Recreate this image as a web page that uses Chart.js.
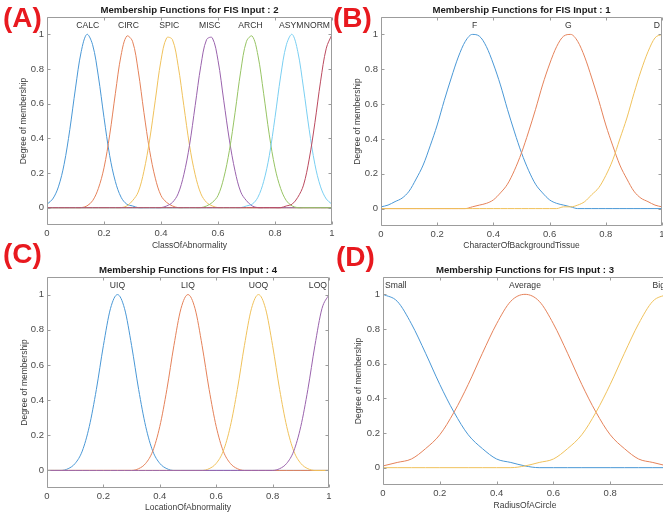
<!DOCTYPE html>
<html><head><meta charset="utf-8">
<script src="https://cdn.jsdelivr.net/npm/chart.js@4.4.1/dist/chart.umd.min.js"></script>
<style>
html,body{margin:0;padding:0;background:#fff;width:663px;height:516px;overflow:hidden;position:relative;}
canvas{position:absolute;}
.tag{position:absolute;font:bold 28px "Liberation Sans",Arial,sans-serif;color:#e8191f;line-height:normal;white-space:nowrap;}
</style></head><body>
<canvas id="cA" width="335" height="256" style="left:0;top:0"></canvas>
<canvas id="cB" width="328" height="256" style="left:335px;top:0"></canvas>
<canvas id="cC" width="335" height="258" style="left:0;top:258px"></canvas>
<canvas id="cD" width="340" height="258" style="left:335px;top:258px"></canvas>
<div class="tag" style="left:3px;top:2px">(A)</div>
<div class="tag" style="left:333px;top:2px">(B)</div>
<div class="tag" style="left:3px;top:238px">(C)</div>
<div class="tag" style="left:336px;top:241px">(D)</div>
<script>
// ---------- DATA ----------
const xTickVals = [0, 0.2, 0.4, 0.6, 0.8, 1];
const yTickVals = [0, 0.2, 0.4, 0.6, 0.8, 1];

// Panel A : FIS Input 2 (ClassOfAbnormality)
const titleA = 'Membership Functions for FIS Input : 2';
const xTitleA = 'ClassOfAbnormality';
const labelsA = ['CALC', 'CIRC', 'SPIC', 'MISC', 'ARCH', 'ASYM', 'NORM'];
const centersA = [0.143, 0.286, 0.429, 0.571, 0.714, 0.857, 1];
const xA = [0,0.02,0.04,0.06,0.08,0.1,0.12,0.14,0.16,0.18,0.2,0.22,0.24,0.26,0.28,0.3,0.32,0.34,0.36,0.38,0.4,0.42,0.44,0.46,0.48,0.5,0.52,0.54,0.56,0.58,0.6,0.62,0.64,0.66,0.68,0.7,0.72,0.74,0.76,0.78,0.8,0.82,0.84,0.86,0.88,0.9,0.92,0.94,0.96,0.98,1];
const calcA = [0.02,0.05,0.12,0.25,0.45,0.69,0.90,1,0.94,0.76,0.52,0.30,0.15,0.06,0.02,0.01,0,0,0,0,0,0,0,0,0,0,0,0,0,0,0,0,0,0,0,0,0,0,0,0,0,0,0,0,0,0,0,0,0,0,0];
const circA = [0,0,0,0,0,0,0,0.01,0.04,0.11,0.23,0.42,0.66,0.88,0.99,0.96,0.79,0.55,0.33,0.17,0.07,0.03,0.01,0,0,0,0,0,0,0,0,0,0,0,0,0,0,0,0,0,0,0,0,0,0,0,0,0,0,0,0];
const spicA = [0,0,0,0,0,0,0,0,0,0,0,0,0,0,0.01,0.04,0.09,0.21,0.39,0.62,0.85,0.98,0.97,0.82,0.59,0.36,0.19,0.08,0.03,0.01,0,0,0,0,0,0,0,0,0,0,0,0,0,0,0,0,0,0,0,0,0];
const miscA = [0,0,0,0,0,0,0,0,0,0,0,0,0,0,0,0,0,0,0,0,0,0.01,0.03,0.08,0.19,0.36,0.59,0.82,0.97,0.98,0.85,0.62,0.39,0.21,0.09,0.04,0.01,0,0,0,0,0,0,0,0,0,0,0,0,0,0];
const archA = [0,0,0,0,0,0,0,0,0,0,0,0,0,0,0,0,0,0,0,0,0,0,0,0,0,0,0,0,0.01,0.03,0.07,0.17,0.33,0.55,0.79,0.96,0.99,0.88,0.66,0.42,0.23,0.11,0.04,0.01,0,0,0,0,0,0,0];
const asymA = [0,0,0,0,0,0,0,0,0,0,0,0,0,0,0,0,0,0,0,0,0,0,0,0,0,0,0,0,0,0,0,0,0,0,0,0.01,0.02,0.06,0.15,0.30,0.52,0.76,0.94,1,0.90,0.69,0.45,0.25,0.12,0.05,0.02];
const normA = [0,0,0,0,0,0,0,0,0,0,0,0,0,0,0,0,0,0,0,0,0,0,0,0,0,0,0,0,0,0,0,0,0,0,0,0,0,0,0,0,0,0,0.01,0.02,0.06,0.13,0.28,0.49,0.73,0.92,1];

// Panel B : FIS Input 1 (CharacterOfBackgroundTissue)
const titleB = 'Membership Functions for FIS Input : 1';
const xTitleB = 'CharacterOfBackgroundTissue';
const labelsB = ['F', 'G', 'D'];
const centersB = [0.333, 0.667, 1];
const xB = [0,0.025,0.05,0.075,0.1,0.125,0.15,0.175,0.2,0.225,0.25,0.275,0.3,0.325,0.35,0.375,0.4,0.425,0.45,0.475,0.5,0.525,0.55,0.575,0.6,0.625,0.65,0.675,0.7,0.725,0.75,0.775,0.8,0.825,0.85,0.875,0.9,0.925,0.95,0.975,1];
const fB = [0.01,0.02,0.04,0.06,0.10,0.17,0.25,0.36,0.48,0.62,0.75,0.87,0.96,1.00,0.99,0.93,0.83,0.71,0.57,0.44,0.32,0.22,0.14,0.09,0.05,0.03,0.02,0.01,0,0,0,0,0,0,0,0,0,0,0,0,0];
const gB = [0,0,0,0,0,0,0,0,0,0,0,0,0,0.01,0.02,0.03,0.05,0.09,0.14,0.22,0.32,0.44,0.57,0.71,0.83,0.93,0.99,1.00,0.96,0.87,0.75,0.62,0.48,0.36,0.25,0.17,0.10,0.06,0.04,0.02,0.01];
const dB = [0,0,0,0,0,0,0,0,0,0,0,0,0,0,0,0,0,0,0,0,0,0,0,0,0,0,0.01,0.01,0.02,0.04,0.08,0.12,0.19,0.28,0.40,0.52,0.66,0.79,0.90,0.98,1];

// Panel C : FIS Input 4 (LocationOfAbnormality)
const titleC = 'Membership Functions for FIS Input : 4';
const xTitleC = 'LocationOfAbnormality';
const labelsC = ['UIQ', 'LIQ', 'UOQ', 'LOQ'];
const centersC = [0.25, 0.5, 0.75, 1];
const xC = [0,0.025,0.05,0.075,0.1,0.125,0.15,0.175,0.2,0.225,0.25,0.275,0.3,0.325,0.35,0.375,0.4,0.425,0.45,0.475,0.5,0.525,0.55,0.575,0.6,0.625,0.65,0.675,0.7,0.725,0.75,0.775,0.8,0.825,0.85,0.875,0.9,0.925,0.95,0.975,1];
const uiqC = [0,0,0,0.01,0.04,0.11,0.25,0.46,0.71,0.92,1,0.92,0.71,0.46,0.25,0.11,0.04,0.01,0,0,0,0,0,0,0,0,0,0,0,0,0,0,0,0,0,0,0,0,0,0,0];
const liqC = [0,0,0,0,0,0,0,0,0,0,0,0,0,0.01,0.04,0.11,0.25,0.46,0.71,0.92,1,0.92,0.71,0.46,0.25,0.11,0.04,0.01,0,0,0,0,0,0,0,0,0,0,0,0,0];
const uoqC = [0,0,0,0,0,0,0,0,0,0,0,0,0,0,0,0,0,0,0,0,0,0,0,0.01,0.04,0.11,0.25,0.46,0.71,0.92,1,0.92,0.71,0.46,0.25,0.11,0.04,0.01,0,0,0];
const loqC = [0,0,0,0,0,0,0,0,0,0,0,0,0,0,0,0,0,0,0,0,0,0,0,0,0,0,0,0,0,0,0,0,0,0.01,0.04,0.11,0.25,0.46,0.71,0.92,1];

// Panel D : FIS Input 3 (RadiusOfACircle)
const titleD = 'Membership Functions for FIS Input : 3';
const xTitleD = 'RadiusOfACircle';
const labelsD = ['Small', 'Average', 'Big'];
const centersD = [0, 0.5, 1];
const xD = [0,0.05,0.1,0.15,0.2,0.25,0.3,0.35,0.4,0.45,0.5,0.55,0.6,0.65,0.7,0.75,0.8,0.85,0.9,0.95,1];
const smallD = [1,0.96,0.83,0.66,0.48,0.32,0.19,0.11,0.05,0.03,0.01,0,0,0,0,0,0,0,0,0,0];
const averageD = [0.01,0.03,0.05,0.11,0.19,0.32,0.48,0.66,0.83,0.96,1,0.96,0.83,0.66,0.48,0.32,0.19,0.11,0.05,0.03,0.01];
const bigD = [0,0,0,0,0,0,0,0,0,0,0.01,0.03,0.05,0.11,0.19,0.32,0.48,0.66,0.83,0.96,1];

// ---------- STYLE ----------
const COLORS = ['#4a98d6', '#e5825a', '#f0c25c', '#9a63ad', '#97c464', '#7acff2', '#bb4a5f'];
const FONT = '"Liberation Sans", Arial, sans-serif';
const AXIS_COLOR = '#9c9c9c';

const matlabAxes = {
  id: 'matlabAxes',
  afterDraw(chart, args, o) {
    const {ctx, chartArea: ca, scales: {x, y}} = chart;
    const L = Math.round(ca.left) + 0.5, R = Math.round(ca.right) - 0.5;
    const T = Math.round(ca.top) + 0.5, B = Math.round(ca.bottom) - 0.5;
    ctx.save();
    ctx.strokeStyle = AXIS_COLOR; ctx.lineWidth = 1;
    ctx.beginPath();
    ctx.rect(L, T, R - L, B - T);
    x.ticks.forEach(t => {
      const px = Math.round(x.getPixelForValue(t.value)) + 0.5;
      ctx.moveTo(px, B); ctx.lineTo(px, B - 3);
      ctx.moveTo(px, T); ctx.lineTo(px, T + 3);
    });
    y.ticks.forEach(t => {
      const py = Math.round(y.getPixelForValue(t.value)) + 0.5;
      ctx.moveTo(L, py); ctx.lineTo(L + 3, py);
      ctx.moveTo(R, py); ctx.lineTo(R - 3, py);
    });
    ctx.stroke();
    // title
    ctx.fillStyle = '#1a1a1a';
    ctx.font = 'bold 9.6px ' + FONT;
    ctx.textAlign = 'center'; ctx.textBaseline = 'middle';
    ctx.fillText(o.title, (ca.left + ca.right) / 2, ca.top - 7);
    // membership function names
    ctx.fillStyle = '#333';
    ctx.font = '8.6px ' + FONT;
    o.labels.forEach((lab, i) => {
      const w = ctx.measureText(lab).width;
      let cx = x.getPixelForValue(o.centers[i]);
      cx = Math.max(ca.left + w / 2 + 2, Math.min(ca.right - w / 2 - 2, cx));
      ctx.fillText(lab, cx, ca.top + 8.5);
    });
    ctx.restore();
  }
};

function fmt(v) { return String(+(+v).toFixed(1)); }

function makePanel(id, xs, series, meta, geo) {
  const datasets = series.map((ys, i) => ({
    data: xs.map((xv, j) => ({x: xv, y: ys[j]})),
    borderColor: COLORS[i],
    borderWidth: 1,
    pointRadius: 0,
    fill: false,
    cubicInterpolationMode: geo.smooth ? 'default' : 'monotone',
    tension: geo.smooth || 0,
    order: series.length - i
  }));
  new Chart(document.getElementById(id), {
    type: 'line',
    data: {datasets},
    plugins: [matlabAxes],
    options: {
      responsive: false, animation: false, events: [],
      layout: {padding: {top: geo.top, right: geo.right, left: 0, bottom: 0}},
      plugins: {legend: {display: false}, tooltip: {enabled: false},
        matlabAxes: meta},
      scales: {
        x: {type: 'linear', min: 0, max: 1,
          afterBuildTicks: s => { s.ticks = xTickVals.map(v => ({value: v})); },
          afterFit: s => { s.height = geo.xh; s.paddingLeft = 0; s.paddingRight = 0; s.paddingTop = 0; s.paddingBottom = 0; },
          grid: {display: false, drawTicks: false},
          border: {display: false},
          ticks: {callback: fmt, color: '#4a4a4a', font: {size: 9.5, family: FONT}, padding: geo.tp, maxRotation: 0, autoSkip: false},
          title: {display: true, text: meta.xTitle, color: '#3a3a3a', font: {size: 8.5, family: FONT}, padding: {top: 0, bottom: geo.xtp}}
        },
        y: {type: 'linear', min: -0.1, max: 1.1,
          afterBuildTicks: s => { s.ticks = yTickVals.map(v => ({value: v})); },
          afterFit: s => { s.width = geo.yw; s.paddingLeft = 0; s.paddingRight = 0; s.paddingTop = 0; s.paddingBottom = 0; },
          grid: {display: false, drawTicks: false},
          border: {display: false},
          ticks: {callback: fmt, color: '#4a4a4a', font: {size: 9.5, family: FONT}, padding: 3},
          title: {display: true, text: 'Degree of membership', color: '#3a3a3a', font: {size: 8.5, family: FONT}, padding: {top: geo.ytp, bottom: 0}}
        }
      }
    }
  });
}

makePanel('cA', xA, [calcA, circA, spicA, miscA, archA, asymA, normA],
  {title: titleA, labels: labelsA, centers: centersA, xTitle: xTitleA},
  {top: 17, right: 3, yw: 47, xh: 31, tp: 3, xtp: 5, ytp: 19, smooth: 0.35});
makePanel('cB', xB, [fB, gB, dB],
  {title: titleB, labels: labelsB, centers: centersB, xTitle: xTitleB},
  {top: 17, right: 1, yw: 46, xh: 30, tp: 3, xtp: 5, ytp: 18});
makePanel('cC', xC, [uiqC, liqC, uoqC, loqC],
  {title: titleC, labels: labelsC, centers: centersC, xTitle: xTitleC},
  {top: 19, right: 6, yw: 47, xh: 28, tp: 3, xtp: 3, ytp: 20});
makePanel('cD', xD, [smallD, averageD, bigD],
  {title: titleD, labels: labelsD, centers: centersD, xTitle: xTitleD},
  {top: 19, right: 8, yw: 48, xh: 31, tp: 3, xtp: 5, ytp: 19});
</script>
</body></html>
